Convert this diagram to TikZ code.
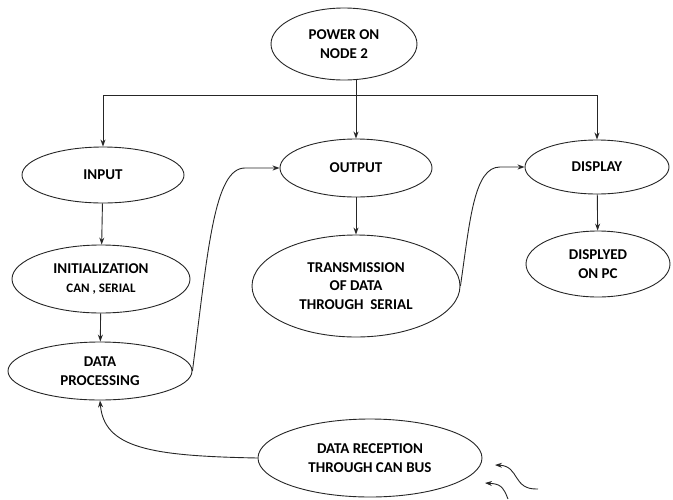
\documentclass[tikz,border=0pt]{standalone}
\usepackage{fontspec}
\setmainfont{Carlito}
\usetikzlibrary{shapes.geometric,arrows.meta}

\begin{document}
\begin{tikzpicture}[
    x=1pt, y=-1pt,
    font=\bfseries\fontsize{15}{18.5}\selectfont,
    ovale/.style={ellipse, draw=black!85, fill=white, line width=0.9pt,
      inner sep=0pt, align=center},
    linea/.style={black!85, line width=0.9pt},
    freccia/.style={linea, -{Stealth[length=7pt, width=5pt]}},
  ]
  \useasboundingbox (0,0) rectangle (673,499);

  % --- i nodi -----------------------------------------------------------
  \node[ovale, minimum width=146, minimum height=72] (power) at (344,44)
    {POWER ON\\NODE 2};
  \node[ovale, minimum width=162, minimum height=56] (input) at (103,175)
    {INPUT};
  \node[ovale, minimum width=178, minimum height=68] (init) at (101,279)
    {INITIALIZATION\\{\fontsize{13}{16}\selectfont CAN , SERIAL}};
  \node[ovale, minimum width=184, minimum height=58] (proc) at (100,371)
    {DATA\\PROCESSING};
  \node[ovale, minimum width=152, minimum height=58] (output) at (356,168)
    {OUTPUT};
  \node[ovale, minimum width=208, minimum height=102] (trans) at (356,286)
    {TRANSMISSION\\OF DATA\\THROUGH\ \ SERIAL};
  \node[ovale, minimum width=144, minimum height=54] (display) at (597,167)
    {DISPLAY};
  \node[ovale, minimum width=144, minimum height=66] (shown) at (598,264)
    {DISPLYED\\ON PC};
  \node[ovale, minimum width=224, minimum height=78] (recep) at (370,458)
    {DATA RECEPTION\\THROUGH CAN BUS};

  % --- diramazione dal nodo di accensione --------------------------------
  \coordinate (split) at (356,95);
  \draw[linea] (output.north |- power.south) -- (split);
  \draw[freccia] (split) -| (input.north);
  \draw[freccia] (split) -- (output.north);
  \draw[freccia] (split) -| (display.north);

  % --- frecce verticali -------------------------------------------------
  \draw[freccia] (input) -- (init);
  \draw[freccia] (init) -- (proc);
  \draw[freccia] (output) -- (trans);
  \draw[freccia] (display) -- (shown);

  % --- collegamenti curvi -----------------------------------------------
  \draw[freccia] (proc.east) .. controls (208,250) and (214,168) .. (245,168)
    -- (output.west);
  \draw[freccia] (trans.east) .. controls (470,220) and (474,167) .. (500,167)
    -- (display.west);
  \draw[freccia] (recep.west) .. controls (150,456) and (104,448) .. (proc.south);

  % --- ingressi dal bus -------------------------------------------------
  \coordinate (bus1) at (538,489);
  \coordinate (tip1) at (495,465);
  \coordinate (bus2) at (508,499);
  \coordinate (tip2) at (485,483);
  \draw[freccia] (bus1) .. controls (512,490) and (520,466) .. (tip1);
  \draw[freccia] (bus2) .. controls (503,486) and (500,484) .. (tip2);

\end{tikzpicture}
\end{document}
